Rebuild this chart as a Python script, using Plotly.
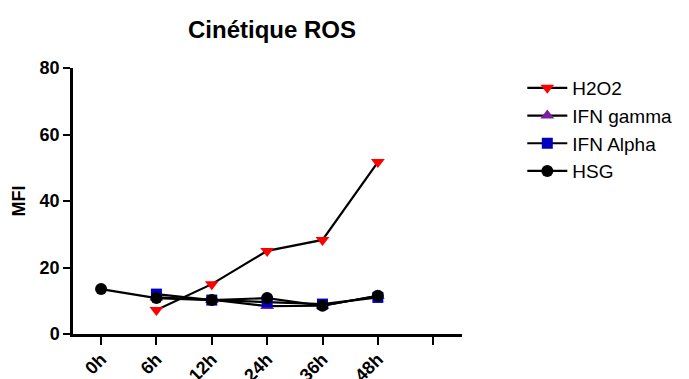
import plotly.graph_objects as go

categories = ["0h", "6h", "12h", "24h", "36h", "48h", ""]
h2o2 = [None, 7.2, 15.0, 25.0, 28.3, 51.7]
ifn_gamma = [None, 11.0, 10.3, 8.4, 8.5, 11.5]
ifn_alpha = [None, 12.0, 10.2, 9.6, 9.0, 11.0]
hsg = [13.5, 10.8, 10.2, 10.8, 8.5, 11.5]

x = list(range(len(categories)))

fig = go.Figure()
series = [
    ("H2O2", h2o2, "triangle-down", "#ff0000", 12),
    ("IFN gamma", ifn_gamma, "triangle-up", "#7a1fa2", 12),
    ("IFN Alpha", ifn_alpha, "square", "#0000c0", 11),
    ("HSG", hsg, "circle", "#000000", 12),
]
for name, vals, sym, col, sz in series:
    fig.add_trace(go.Scatter(
        x=x[:len(vals)], y=vals, name=name, mode="lines+markers",
        line=dict(color="black", width=2.2),
        marker=dict(symbol=sym, color=col, size=sz, line=dict(width=0)),
        cliponaxis=False, connectgaps=False,
    ))

font = "Liberation Sans, Arial, sans-serif"
# page body adds an 8px margin; the figure is sized to fit inside the window
W, H = 681, 371
fig.update_layout(
    width=W, height=H,
    margin=dict(l=65, r=216, t=60, b=45),
    paper_bgcolor="white", plot_bgcolor="white",
    title=dict(text="<b>Cinétique ROS</b>", x=264 / W, xanchor="center",
               y=1 - 22 / H, yanchor="middle",
               font=dict(family=font, size=24, color="black")),
    font=dict(family=font, color="black"),
    legend=dict(x=(535 - 73) / 400, y=1 - 1 / 266, xanchor="left", yanchor="top",
                font=dict(family=font, size=19, color="black"),
                tracegroupgap=10.5, itemwidth=40, bgcolor="rgba(0,0,0,0)"),
    showlegend=True,
)
fig.update_xaxes(
    range=[-0.507, 6.52], tickmode="array", tickvals=x, ticktext=[f"<b>{c}</b>" for c in categories],
    tickangle=-45, ticks="outside", ticklen=8, tickwidth=2, tickcolor="black",
    showline=True, linewidth=2.5, linecolor="black", showgrid=False, zeroline=False,
    tickfont=dict(family=font, size=18, color="black"), automargin=False,
    ticklabelstandoff=-3,
)
fig.update_yaxes(
    range=[0, 80], tickvals=[0, 20, 40, 60, 80], ticktext=["<b>0</b>", "<b>20</b>", "<b>40</b>", "<b>60</b>", "<b>80</b>"],
    ticks="outside", ticklen=7, tickwidth=2, tickcolor="black",
    showline=True, linewidth=2.5, linecolor="black", showgrid=False, zeroline=False,
    tickfont=dict(family=font, size=18, color="black"), automargin=False,
    title=dict(text="<b>MFI</b>", font=dict(family=font, size=18, color="black"), standoff=10),
)
fig.write_html("out.html")
